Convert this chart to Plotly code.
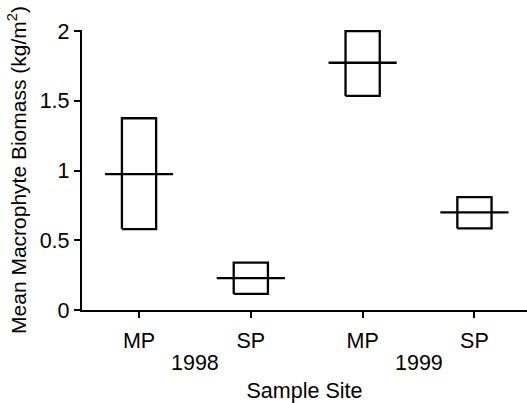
import plotly.graph_objects as go

# Mean macrophyte biomass per sample site and year (kg/m^2)
sites = ["MP", "SP", "MP", "SP"]
years = ["1998", "1999"]
site_pos = [0, 1, 2, 3]
year_pos = [0.5, 2.5]
mean_biomass = [0.975, 0.228, 1.773, 0.700]
lower_bound = [0.580, 0.115, 1.535, 0.585]
upper_bound = [1.375, 0.340, 2.000, 0.810]
y_ticks = [0, 0.5, 1, 1.5, 2]
y_tick_text = ["0", "0.5", "1", "1.5", "2"]

BOX_HALF = 0.153
MEAN_HALF = 0.305
LW = 2.3
FONT = "Liberation Sans, Arial, Helvetica, sans-serif"
FS = 21.5

fig = go.Figure()

for x, lo, hi, m in zip(site_pos, lower_bound, upper_bound, mean_biomass):
    # rectangle spanning the lower/upper bounds
    fig.add_trace(go.Scatter(
        x=[x - BOX_HALF, x + BOX_HALF, x + BOX_HALF, x - BOX_HALF, x - BOX_HALF],
        y=[lo, lo, hi, hi, lo],
        mode="lines", line=dict(color="black", width=LW),
        hoverinfo="skip", showlegend=False,
    ))
    # horizontal bar at the mean
    fig.add_trace(go.Scatter(
        x=[x - MEAN_HALF, x + MEAN_HALF], y=[m, m],
        mode="lines", line=dict(color="black", width=LW),
        showlegend=False,
    ))

for xp, yr in zip(year_pos, years):
    fig.add_annotation(
        x=xp, xref="x", y=-0.188, yref="paper", yanchor="middle",
        text=yr, showarrow=False, font=dict(family=FONT, size=FS, color="black"),
    )

fig.update_layout(
    width=527, height=403,
    margin=dict(l=82, r=0, t=30, b=93),
    paper_bgcolor="white", plot_bgcolor="white",
    font=dict(family=FONT, size=FS, color="black"),
    xaxis=dict(
        range=[-0.51, 3.47], tickvals=site_pos, ticktext=sites,
        tickfont=dict(size=FS),
        showline=True, linecolor="black", linewidth=LW,
        ticks="outside", ticklen=6, tickwidth=LW, tickcolor="black",
        ticklabelstandoff=4,
        showgrid=False, zeroline=False,
        title=dict(text="Sample Site", standoff=36, font=dict(size=FS)),
    ),
    yaxis=dict(
        range=[0, 2.008], tickvals=y_ticks, ticktext=y_tick_text,
        tickfont=dict(size=FS),
        showline=True, linecolor="black", linewidth=LW,
        ticks="outside", ticklen=6, tickwidth=LW, tickcolor="black",
        showgrid=False, zeroline=False,
        title=dict(text="Mean Macrophyte Biomass (kg/m<sup>2</sup>)", standoff=7,
                   font=dict(size=21)),
    ),
)

fig.write_html("out.html")
